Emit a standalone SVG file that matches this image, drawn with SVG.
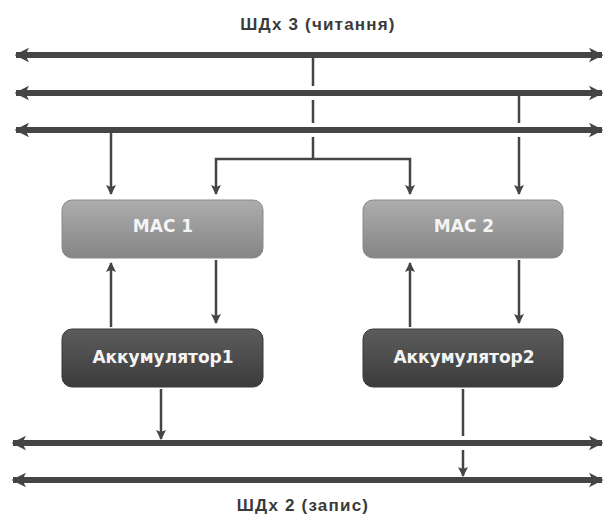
<svg xmlns="http://www.w3.org/2000/svg" width="603" height="516" viewBox="0 0 603 516">
  <defs>
    <linearGradient id="gMac" x1="0" y1="0" x2="0" y2="1">
      <stop offset="0" stop-color="#adadad"/>
      <stop offset="1" stop-color="#858585"/>
    </linearGradient>
    <linearGradient id="gAcc" x1="0" y1="0" x2="0" y2="1">
      <stop offset="0" stop-color="#5c5c5c"/>
      <stop offset="1" stop-color="#3c3c3c"/>
    </linearGradient>
    <marker id="busHead" viewBox="0 0 10 10" refX="9" refY="5" markerWidth="2.4" markerHeight="2.6" orient="auto-start-reverse" markerUnits="strokeWidth">
      <path d="M0,0 L10,5 L0,10 L2.5,5 Z" fill="#454545"/>
    </marker>
    <marker id="arr" viewBox="0 0 10 10" refX="9" refY="5" markerWidth="4" markerHeight="4" orient="auto" markerUnits="strokeWidth">
      <path d="M0,0 L10,5 L0,10 L2,5 Z" fill="#454545"/>
    </marker>
  </defs>
  <style>
    .bus { stroke: #454545; stroke-width: 6; fill: none; marker-start: url(#busHead); marker-end: url(#busHead); }
    .wire { stroke: #454545; stroke-width: 2.5; fill: none; }
    .arrow { marker-end: url(#arr); }
    .label { font-family: "Liberation Sans", Arial, sans-serif; font-weight: bold; font-size: 17px; letter-spacing: 1.2px; fill: #3a3a3a; text-anchor: middle; }
    .nodeText { font-family: "DejaVu Sans", Verdana, sans-serif; font-weight: bold; font-size: 17px; fill: #f4f4f4; text-anchor: middle; }
    .mac { fill: url(#gMac); stroke: #8a8a8a; stroke-width: 1; }
    .acc { fill: url(#gAcc); stroke: #383838; stroke-width: 1; }
  </style>

  <rect x="0" y="0" width="603" height="516" fill="#ffffff"/>

  <text class="label" x="318" y="30">ШДx 3 (читання)</text>
  <text class="label" x="303" y="511">ШДx 2 (запис)</text>

  <g id="connectors">
    <!-- read buses -->
    <path class="bus" d="M16,55 H602"/>
    <path class="bus" d="M16,93 H602"/>
    <path class="bus" d="M16,130 H602"/>
    <!-- write buses -->
    <path class="bus" d="M13,443 H602"/>
    <path class="bus" d="M13,480 H602"/>

    <!-- bus 1 tap splitting to both MACs -->
    <path class="wire" d="M313,58 V86 M313,100 V123 M313,137 V159"/>
    <path class="wire arrow" d="M313,159 H216 V194"/>
    <path class="wire arrow" d="M313,159 H410 V194"/>
    <!-- bus 3 tap to MAC 1 -->
    <path class="wire arrow" d="M111,133 V194"/>
    <!-- bus 2 tap to MAC 2 -->
    <path class="wire" d="M519,96 V123"/>
    <path class="wire arrow" d="M519,137 V194"/>

    <!-- MAC / accumulator links -->
    <path class="wire arrow" d="M111,327 V263"/>
    <path class="wire arrow" d="M216,260 V323"/>
    <path class="wire arrow" d="M410,327 V263"/>
    <path class="wire arrow" d="M519,260 V323"/>

    <!-- accumulators to write buses -->
    <path class="wire arrow" d="M161,389 V439"/>
    <path class="wire" d="M463,389 V436"/>
    <path class="wire arrow" d="M463,450 V476"/>
  </g>

  <g id="mac1">
    <rect class="mac" x="62" y="200" width="201" height="58" rx="10"/>
    <text class="nodeText" x="163" y="232">MAC 1</text>
  </g>
  <g id="mac2">
    <rect class="mac" x="363" y="200" width="200" height="58" rx="10"/>
    <text class="nodeText" x="464" y="232">MAC 2</text>
  </g>
  <g id="acc1">
    <rect class="acc" x="62" y="329" width="201" height="58" rx="10"/>
    <text class="nodeText" x="163" y="363">Аккумулятор1</text>
  </g>
  <g id="acc2">
    <rect class="acc" x="363" y="329" width="200" height="58" rx="10"/>
    <text class="nodeText" x="464" y="363">Аккумулятор2</text>
  </g>
</svg>
